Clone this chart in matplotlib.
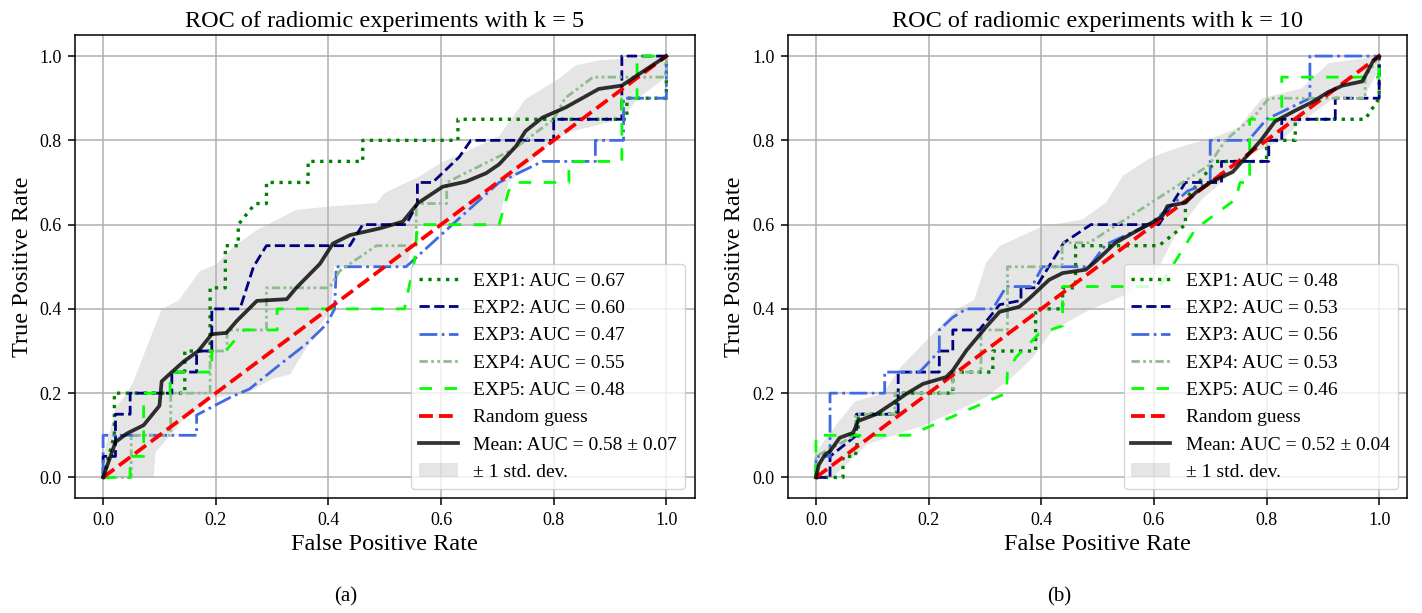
import numpy as np
import matplotlib
matplotlib.use("Agg")
import matplotlib.pyplot as plt

plt.rcParams['font.family'] = ['Liberation Serif', 'DejaVu Serif']
plt.rcParams['axes.linewidth'] = 1.1
plt.rcParams['grid.linewidth'] = 1.1

# ---- k = 5 (left) ----
k5_exp1_fpr = [0, 0.02, 0.02, 0.145, 0.145, 0.19, 0.19, 0.217, 0.217, 0.24, 0.24, 0.27, 0.29, 0.29, 0.364, 0.364, 0.461, 0.461, 0.63, 0.63, 0.93, 0.93, 1.0, 1.0]
k5_exp1_tpr = [0, 0.1, 0.2, 0.2, 0.3, 0.3, 0.45, 0.45, 0.55, 0.55, 0.6, 0.65, 0.65, 0.70, 0.70, 0.75, 0.75, 0.80, 0.80, 0.85, 0.85, 0.90, 0.90, 1.0]
k5_exp2_fpr = [0, 0, 0.022, 0.022, 0.048, 0.048, 0.122, 0.122, 0.166, 0.166, 0.193, 0.193, 0.243, 0.267, 0.29, 0.438, 0.461, 0.538, 0.558, 0.558, 0.585, 0.632, 0.653, 0.80, 0.80, 0.921, 0.921, 1.0]
k5_exp2_tpr = [0, 0.05, 0.05, 0.15, 0.15, 0.2, 0.2, 0.25, 0.25, 0.30, 0.30, 0.40, 0.40, 0.50, 0.55, 0.55, 0.60, 0.60, 0.65, 0.70, 0.70, 0.76, 0.80, 0.80, 0.85, 0.85, 1.0, 1.0]
k5_exp3_fpr = [0, 0, 0.166, 0.166, 0.226, 0.26, 0.314, 0.36, 0.397, 0.411, 0.414, 0.538, 0.62, 0.703, 0.78, 0.874, 0.874, 0.924, 0.924, 1.0, 1.0]
k5_exp3_tpr = [0, 0.10, 0.10, 0.148, 0.19, 0.21, 0.268, 0.316, 0.364, 0.40, 0.50, 0.50, 0.60, 0.70, 0.75, 0.75, 0.80, 0.80, 0.90, 0.90, 1.0]
k5_exp4_fpr = [0, 0.05, 0.05, 0.12, 0.12, 0.19, 0.19, 0.22, 0.22, 0.29, 0.29, 0.402, 0.42, 0.485, 0.556, 0.556, 0.61, 0.61, 0.73, 0.80, 0.82, 0.87, 1.0, 1.0]
k5_exp4_tpr = [0, 0, 0.10, 0.10, 0.20, 0.20, 0.30, 0.30, 0.35, 0.35, 0.45, 0.45, 0.49, 0.55, 0.55, 0.65, 0.65, 0.70, 0.78, 0.85, 0.90, 0.95, 0.95, 1.0]
k5_exp5_fpr = [0, 0.048, 0.048, 0.072, 0.072, 0.119, 0.119, 0.166, 0.193, 0.193, 0.217, 0.25, 0.309, 0.309, 0.535, 0.553, 0.558, 0.703, 0.72, 0.73, 0.827, 0.827, 0.921, 0.921, 0.948, 0.948, 1.0]
k5_exp5_tpr = [0, 0, 0.05, 0.05, 0.20, 0.20, 0.25, 0.25, 0.25, 0.30, 0.30, 0.35, 0.35, 0.40, 0.40, 0.515, 0.60, 0.60, 0.68, 0.70, 0.70, 0.75, 0.75, 0.90, 0.90, 1.0, 1.0]
k5_mean_fpr = [0, 0.022, 0.042, 0.072, 0.10, 0.104, 0.122, 0.143, 0.169, 0.193, 0.219, 0.237, 0.273, 0.326, 0.343, 0.385, 0.408, 0.438, 0.491, 0.532, 0.559, 0.603, 0.644, 0.68, 0.703, 0.733, 0.75, 0.78, 0.821, 0.88, 0.921, 0.957, 1.0]
k5_mean_tpr = [0, 0.084, 0.104, 0.124, 0.17, 0.228, 0.25, 0.275, 0.30, 0.34, 0.343, 0.371, 0.419, 0.423, 0.45, 0.507, 0.555, 0.575, 0.591, 0.607, 0.651, 0.69, 0.702, 0.722, 0.743, 0.786, 0.822, 0.854, 0.878, 0.922, 0.93, 0.962, 1.0]
k5_upper_fpr = [0, 0.01, 0.022, 0.042, 0.054, 0.072, 0.104, 0.134, 0.172, 0.20, 0.231, 0.273, 0.343, 0.402, 0.485, 0.50, 0.562, 0.60, 0.633, 0.703, 0.75, 0.809, 0.839, 0.88, 1.0]
k5_upper_tpr = [0.05, 0.10, 0.164, 0.20, 0.228, 0.29, 0.40, 0.42, 0.49, 0.505, 0.547, 0.587, 0.635, 0.643, 0.651, 0.675, 0.715, 0.747, 0.766, 0.81, 0.898, 0.946, 0.978, 0.99, 1.0]
k5_lower_fpr = [0, 0.09, 0.093, 0.104, 0.155, 0.172, 0.19, 0.255, 0.302, 0.332, 0.379, 0.405, 0.41, 0.54, 0.555, 0.70, 0.72, 0.80, 0.83, 0.92, 0.95, 1.0]
k5_lower_tpr = [0, 0, 0.06, 0.076, 0.156, 0.164, 0.188, 0.20, 0.235, 0.244, 0.347, 0.40, 0.50, 0.50, 0.60, 0.60, 0.70, 0.80, 0.82, 0.85, 0.90, 0.95]
k5_auc = [0.67, 0.60, 0.47, 0.55, 0.48]
k5_mean_auc, k5_std_auc = 0.58, 0.07

# ---- k = 10 (right) ----
k10_exp1_fpr = [0, 0.048, 0.048, 0.07, 0.075, 0.075, 0.143, 0.143, 0.243, 0.243, 0.314, 0.314, 0.39, 0.39, 0.438, 0.438, 0.461, 0.461, 0.609, 0.656, 0.656, 0.709, 0.80, 0.80, 0.851, 0.851, 0.975, 1.0, 1.0]
k10_exp1_tpr = [0, 0, 0.05, 0.05, 0.10, 0.15, 0.15, 0.20, 0.20, 0.25, 0.25, 0.30, 0.30, 0.40, 0.40, 0.45, 0.45, 0.55, 0.55, 0.60, 0.66, 0.75, 0.75, 0.80, 0.80, 0.85, 0.85, 0.90, 1.0]
k10_exp2_fpr = [0, 0.025, 0.025, 0.072, 0.072, 0.146, 0.146, 0.219, 0.219, 0.243, 0.243, 0.29, 0.326, 0.364, 0.364, 0.39, 0.44, 0.488, 0.609, 0.656, 0.72, 0.72, 0.804, 0.804, 0.827, 0.827, 0.922, 0.922, 1.0, 1.0]
k10_exp2_tpr = [0, 0, 0.05, 0.10, 0.15, 0.15, 0.25, 0.25, 0.30, 0.30, 0.35, 0.35, 0.41, 0.42, 0.45, 0.45, 0.557, 0.60, 0.60, 0.70, 0.70, 0.75, 0.75, 0.80, 0.80, 0.85, 0.85, 0.90, 0.90, 1.0]
k10_exp3_fpr = [0, 0, 0.025, 0.025, 0.122, 0.122, 0.184, 0.219, 0.219, 0.243, 0.267, 0.314, 0.338, 0.384, 0.39, 0.402, 0.485, 0.515, 0.591, 0.62, 0.66, 0.70, 0.70, 0.768, 0.80, 0.877, 0.877, 1.0]
k10_exp3_tpr = [0, 0.05, 0.05, 0.20, 0.20, 0.25, 0.25, 0.30, 0.35, 0.38, 0.40, 0.40, 0.453, 0.453, 0.47, 0.50, 0.50, 0.553, 0.60, 0.632, 0.68, 0.70, 0.80, 0.80, 0.85, 0.90, 1.0, 1.0]
k10_exp4_fpr = [0, 0, 0.07, 0.07, 0.14, 0.14, 0.243, 0.243, 0.293, 0.293, 0.34, 0.34, 0.437, 0.437, 0.485, 0.697, 0.727, 0.78, 0.804, 0.975, 0.975, 1.0]
k10_exp4_tpr = [0, 0.05, 0.10, 0.15, 0.15, 0.20, 0.20, 0.25, 0.25, 0.35, 0.35, 0.50, 0.50, 0.557, 0.557, 0.74, 0.80, 0.86, 0.90, 0.90, 0.95, 1.0]
k10_exp5_fpr = [0, 0, 0.166, 0.338, 0.34, 0.355, 0.396, 0.438, 0.438, 0.61, 0.674, 0.745, 0.753, 0.77, 0.77, 0.827, 0.827, 1.0, 1.0]
k10_exp5_tpr = [0, 0.10, 0.10, 0.20, 0.25, 0.285, 0.341, 0.36, 0.453, 0.453, 0.59, 0.66, 0.70, 0.70, 0.85, 0.85, 0.95, 0.95, 1.0]
k10_mean_fpr = [0, 0.005, 0.016, 0.025, 0.042, 0.066, 0.075, 0.107, 0.143, 0.16, 0.19, 0.231, 0.243, 0.267, 0.302, 0.326, 0.361, 0.379, 0.414, 0.438, 0.479, 0.497, 0.532, 0.568, 0.597, 0.615, 0.624, 0.656, 0.674, 0.70, 0.74, 0.77, 0.79, 0.815, 0.85, 0.88, 0.91, 0.935, 0.97, 0.98, 0.99, 1.0]
k10_mean_tpr = [0, 0.03, 0.054, 0.062, 0.094, 0.106, 0.134, 0.15, 0.182, 0.198, 0.222, 0.238, 0.254, 0.301, 0.357, 0.393, 0.405, 0.425, 0.469, 0.485, 0.493, 0.513, 0.557, 0.584, 0.605, 0.62, 0.644, 0.652, 0.676, 0.70, 0.725, 0.77, 0.80, 0.845, 0.87, 0.89, 0.915, 0.93, 0.94, 0.965, 0.99, 1.0]
k10_upper_fpr = [0, 0.01, 0.037, 0.069, 0.12, 0.149, 0.207, 0.25, 0.281, 0.302, 0.326, 0.402, 0.473, 0.515, 0.545, 0.591, 0.62, 0.66, 0.703, 0.75, 0.792, 0.862, 0.91, 1.0]
k10_upper_tpr = [0.05, 0.079, 0.126, 0.18, 0.20, 0.26, 0.34, 0.40, 0.421, 0.509, 0.549, 0.596, 0.612, 0.652, 0.716, 0.756, 0.772, 0.79, 0.805, 0.83, 0.90, 0.923, 0.983, 1.0]
k10_lower_fpr = [0, 0.03, 0.066, 0.09, 0.196, 0.249, 0.302, 0.349, 0.385, 0.42, 0.485, 0.556, 0.609, 0.64, 0.685, 0.72, 0.768, 0.827, 0.862, 0.92, 0.975, 1.0]
k10_lower_tpr = [0, 0, 0.046, 0.078, 0.126, 0.158, 0.19, 0.238, 0.285, 0.349, 0.397, 0.437, 0.50, 0.58, 0.66, 0.70, 0.764, 0.80, 0.844, 0.90, 0.907, 0.97]
k10_auc = [0.48, 0.53, 0.56, 0.53, 0.46]
k10_mean_auc, k10_std_auc = 0.52, 0.04

exp_colors = ['green', 'navy', 'royalblue', 'darkseagreen', 'lime']
exp_styles = [':', '--', '-.', (0, (3, 1.2, 1, 1.2, 1, 1.2)), (0, (4.5, 4.5))]
exp_widths = [2.4, 2, 2, 2, 2]


def draw_panel(ax, exps, aucs, mean_fpr, mean_tpr, mean_auc, std_auc,
               up_fpr, up_tpr, lo_fpr, lo_tpr, title):
    for i, (fpr, tpr) in enumerate(exps):
        ax.plot(fpr, tpr, color=exp_colors[i], linestyle=exp_styles[i],
                lw=exp_widths[i], label='EXP{}: AUC = {:.2f}'.format(i + 1, aucs[i]))
    ax.plot([0, 1], [0, 1], linestyle='--', lw=2.7, color='r', label='Random guess')
    ax.plot(mean_fpr, mean_tpr, color='k', lw=2.7, alpha=0.8,
            label='Mean: AUC = {:.2f} \u00b1 {:.2f}'.format(mean_auc, std_auc))
    band_x = np.concatenate([up_fpr, lo_fpr[::-1]])
    band_y = np.concatenate([up_tpr, lo_tpr[::-1]])
    ax.fill(band_x, band_y, color='grey', alpha=0.2, lw=0, label='\u00b1 1 std. dev.')
    ax.set_xlim(-0.05, 1.05)
    ax.set_ylim(-0.05, 1.05)
    ax.set_xticks(np.arange(0, 1.01, 0.2))
    ax.set_yticks(np.arange(0, 1.01, 0.2))
    ax.tick_params(labelsize=13, length=4.7, width=1.1, pad=4.7)
    ax.grid(True)
    ax.set_xlabel('False Positive Rate', fontsize=17.5, labelpad=4)
    ax.set_ylabel('True Positive Rate', fontsize=17.5, labelpad=5)
    ax.set_title(title, fontsize=17.5)
    ax.legend(loc='lower right', fontsize=14, labelspacing=0.5)


fig = plt.figure(figsize=(14.22, 6.13), dpi=100)
ax1 = fig.add_axes([0.0527, 0.1868, 0.4357, 0.7561])
ax2 = fig.add_axes([0.5540, 0.1868, 0.4357, 0.7561])

draw_panel(ax1,
           [(k5_exp1_fpr, k5_exp1_tpr), (k5_exp2_fpr, k5_exp2_tpr), (k5_exp3_fpr, k5_exp3_tpr),
            (k5_exp4_fpr, k5_exp4_tpr), (k5_exp5_fpr, k5_exp5_tpr)],
           k5_auc, k5_mean_fpr, k5_mean_tpr, k5_mean_auc, k5_std_auc,
           k5_upper_fpr, k5_upper_tpr, k5_lower_fpr, k5_lower_tpr,
           'ROC of radiomic experiments with k = 5')
draw_panel(ax2,
           [(k10_exp1_fpr, k10_exp1_tpr), (k10_exp2_fpr, k10_exp2_tpr), (k10_exp3_fpr, k10_exp3_tpr),
            (k10_exp4_fpr, k10_exp4_tpr), (k10_exp5_fpr, k10_exp5_tpr)],
           k10_auc, k10_mean_fpr, k10_mean_tpr, k10_mean_auc, k10_std_auc,
           k10_upper_fpr, k10_upper_tpr, k10_lower_fpr, k10_lower_tpr,
           'ROC of radiomic experiments with k = 10')

fig.text(0.2433, 0.026, '(a)', ha='center', va='center', fontsize=15)
fig.text(0.7450, 0.026, '(b)', ha='center', va='center', fontsize=15)

fig.savefig('out.png', dpi=100)
